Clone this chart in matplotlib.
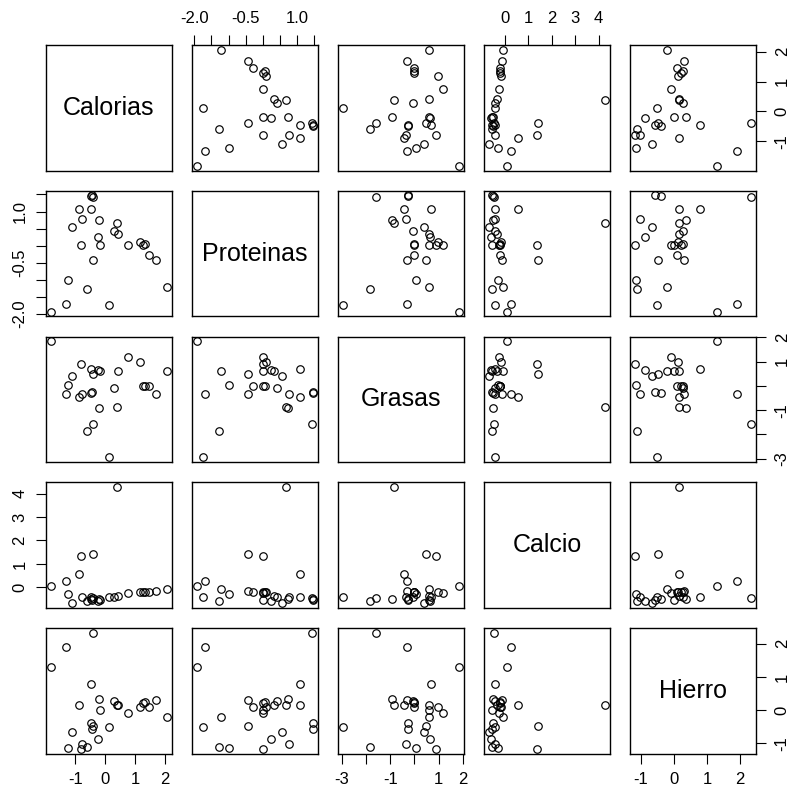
import numpy as np
import matplotlib
matplotlib.use('Agg')
from matplotlib import pyplot as plt

plt.rcParams['font.family'] = ['Liberation Sans', 'DejaVu Sans']

variables = ['Calorias', 'Proteinas', 'Grasas', 'Calcio', 'Hierro']

# standardized values (27 items)
calorias = [-1.82, -1.32, -1.23, -1.10, -0.88, -0.78, -0.80, -0.60, -0.39, -0.44,
            -0.48, -0.46, -0.40, -0.23, -0.20, -0.18, 0.12, 0.30, 0.40, 0.43,
            0.76, 1.18, 1.28, 1.34, 1.46, 1.69, 2.07]
proteinas = [-1.93, -1.70, -0.99, 0.56, 1.08, 0.77, 0.02, -1.27, 1.43, 1.47,
             1.46, 1.08, -0.43, 0.24, 0.75, 0.02, -1.75, 0.42, 0.67, 0.33,
             0.02, 0.11, 0.02, 0.06, -0.28, -0.42, -1.22]
grasas = [1.84, -0.32, 0.05, 0.39, -0.44, -0.33, 0.91, -1.85, -1.59, -0.27,
          -0.28, 0.70, 0.49, 0.65, -0.93, 0.60, -2.95, -0.07, -0.86, 0.60,
          1.18, 0.98, -0.01, -0.01, -0.01, -0.32, 0.60]
calcio = [0.07, 0.25, -0.28, -0.68, 0.56, -0.42, 1.35, -0.57, -0.47, -0.53,
          -0.51, -0.43, 1.42, -0.58, -0.50, -0.54, -0.43, -0.42, 4.28, -0.35,
          -0.26, -0.18, -0.21, -0.22, -0.21, -0.14, -0.09]
hierro = [1.30, 1.91, -1.14, -0.67, 0.16, -1.02, -1.17, -1.12, 2.33, -0.58,
          -0.39, 0.80, -0.47, -0.88, 0.35, 0.01, -0.50, 0.27, 0.15, 0.16,
          -0.08, 0.11, 0.22, 0.26, 0.09, 0.30, -0.20]

data = [calorias, proteinas, grasas, calcio, hierro]

tick_vals = [
    [-1, 0, 1, 2],
    [-2.0, -1.5, -1.0, -0.5, 0.0, 0.5, 1.0, 1.5],
    [-3, -2, -1, 0, 1, 2],
    [0, 1, 2, 3, 4],
    [-1, 0, 1, 2],
]
tick_labels = [
    ['-1', '0', '1', '2'],
    ['-2.0', '', '', '-0.5', '', '', '1.0', ''],
    ['-3', '', '-1', '', '1', '2'],
    ['0', '1', '2', '3', '4'],
    ['-1', '0', '1', '2'],
]

W, H = 800, 802
left, top = 46, 45
step_x, step_y = 146.1, 145.8
size = 125.5

fig = plt.figure(figsize=(W / 100, H / 100), dpi=100)

lims = []
for v in data:
    lo, hi = min(v), max(v)
    pad = 0.04 * (hi - lo)
    lims.append((lo - pad, hi + pad))

n = len(variables)
for i in range(n):
    for j in range(n):
        x = left + j * step_x
        y = top + i * step_y
        ax = fig.add_axes([x / W, 1 - (y + size) / H, size / W, size / H])
        ax.set_xlim(lims[j])
        ax.set_ylim(lims[i])
        for s in ax.spines.values():
            s.set_linewidth(1.0)
        if i == j:
            ax.text(0.5, 0.5, variables[i], transform=ax.transAxes,
                    ha='center', va='center', fontsize=18)
        else:
            ax.plot(data[j], data[i], 'o', mfc='none', mec='black',
                    ms=5.4, mew=0.85)

        ax.set_xticks(tick_vals[j])
        ax.set_xticklabels(tick_labels[j])
        ax.set_yticks(tick_vals[i])
        ax.set_yticklabels(tick_labels[i], rotation=90, va='center')

        show_top = (i == 0 and j % 2 == 1)
        show_bottom = (i == n - 1 and j % 2 == 0)
        show_left = (j == 0 and i % 2 == 1)
        show_right = (j == n - 1 and i % 2 == 0)
        ax.tick_params(axis='x', direction='out', length=7.5, width=0.8,
                       labelsize=12, pad=6,
                       top=show_top, labeltop=show_top,
                       bottom=show_bottom, labelbottom=show_bottom)
        ax.tick_params(axis='y', direction='out', length=7.5, width=0.8,
                       labelsize=12, pad=6,
                       left=show_left, labelleft=show_left,
                       right=show_right, labelright=show_right)

plt.savefig('out.png', dpi=100)
